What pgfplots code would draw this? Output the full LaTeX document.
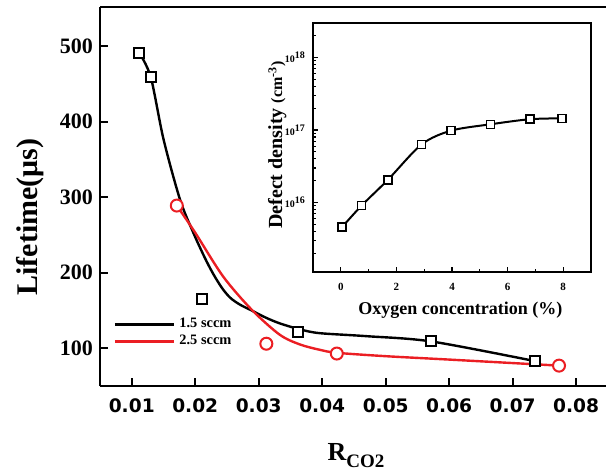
\documentclass[border=0pt]{standalone}
\usepackage{fontspec}
\setmainfont{Liberation Serif}
\newfontfamily\dejavu{DejaVu Sans}
\usepackage{pgfplots}
\pgfplotsset{compat=1.18}
\definecolor{fitred}{RGB}{235,30,35}

\begin{document}
\begin{tikzpicture}
\path[use as bounding box] (-50pt,-43.5pt) rectangle (254.5pt,193pt);
% main plot: lifetime vs R_CO2
\begin{axis}[
  at={(0,0)}, anchor=south west, scale only axis,
  width=253pt, height=189.5pt,
  xmin=0.005, xmax=0.0847, ymin=50, ymax=552,
  axis x line*=box, axis y line*=left,
  axis line style={line width=1.3pt,-},
  xtick pos=bottom, ytick pos=left,
  tick align=inside, major tick length=4pt,
  tick style={line width=1.1pt,black},
  scaled x ticks=false,
  xtick={0.01,0.02,0.03,0.04,0.05,0.06,0.07,0.08},
  xticklabels={0.01,0.02,0.03,0.04,0.05,0.06,0.07,0.08},
  xticklabel style={font=\dejavu\bfseries\fontsize{9.3}{9.3}\selectfont,yshift=-3pt},
  ytick={100,200,300,400,500},
  yticklabel style={font=\fontsize{11}{11}\selectfont\bfseries},
  /pgf/number format/assume math mode=true,
  xlabel={R\raisebox{-3.5pt}{\fontsize{9.5}{9.5}\selectfont CO2}},
  xlabel style={font=\fontsize{13}{13}\selectfont\bfseries,at={(axis description cs:0.506,0)},anchor=base,yshift=-37pt},
  ylabel={Lifetime(μs)},
  ylabel style={font=\fontsize{15}{15}\selectfont\bfseries,at={(axis description cs:-0.1245,0.446)},anchor=base},
  legend style={at={(axis cs:0.00705,120.4)}, anchor=west, draw=none, fill=none,
    font=\fontsize{7.2}{7.2}\selectfont\bfseries, row sep=-2pt, inner sep=0pt},
  legend image code/.code={\draw[#1,line width=1.5pt] (0pt,0pt) -- (29.5pt,0pt);},
  legend cell align=left,
]
\addplot[black, line width=1.2pt, smooth] coordinates {
  (0.0112,491) (0.0130,459) (0.0150,377) (0.0176,297) (0.0197,253)
  (0.0215,220) (0.0228,199) (0.0242,180) (0.0255,167) (0.0270,158)
  (0.0289,150) (0.0310,141) (0.0333,133) (0.0365,125) (0.0396,120)
  (0.0470,116) (0.0572,109) (0.0735,83)};
\addlegendentry{1.5 sccm}
\addplot[fitred, line width=1.2pt, smooth] coordinates {
  (0.0171,289) (0.0200,253) (0.0244,195) (0.0289,151) (0.0333,118)
  (0.0365,105) (0.0396,98) (0.0423,94) (0.0500,89.5) (0.0600,85) (0.0773,77)};
\addlegendentry{2.5 sccm}
\addplot[only marks, mark=square*, mark size=2.5pt, forget plot,
  mark options={draw=black, fill=white, line width=1pt}] coordinates {
  (0.0112,491) (0.0131,459) (0.0211,165) (0.0362,121) (0.0572,109) (0.0735,83)};
\addplot[only marks, mark=*, mark size=3pt, forget plot,
  mark options={draw=fitred, fill=white, line width=1pt}] coordinates {
  (0.0171,289) (0.0312,106) (0.0423,93) (0.0773,77)};
\end{axis}
% inset: defect density vs oxygen concentration
\begin{axis}[
  at={(106.5pt,57pt)}, anchor=south west, scale only axis,
  width=139pt, height=124.5pt,
  axis background/.style={fill=white},
  xmin=-1, xmax=9, ymode=log, ymin=1.1e15, ymax=3e18,
  axis line style={line width=0.7pt},
  xtick pos=bottom, ytick pos=left,
  tick align=inside, major tick length=2.5pt, minor tick length=1.5pt,
  tick style={line width=0.6pt,black},
  xtick={0,2,4,6,8}, minor xtick={1,3,5,7},
  ytick={1e16,1e17,1e18},
  minor ytick={2e15,3e15,4e15,5e15,6e15,7e15,8e15,9e15,
    2e16,3e16,4e16,5e16,6e16,7e16,8e16,9e16,
    2e17,3e17,4e17,5e17,6e17,7e17,8e17,9e17,2e18,3e18},
  yticklabels={10\textsuperscript{16},10\textsuperscript{17},10\textsuperscript{18}},
  xticklabels={0,2,4,6,8},
  xticklabel style={font=\fontsize{5.5}{5.5}\selectfont\bfseries,yshift=-2pt},
  yticklabel style={font=\fontsize{5}{5}\selectfont\bfseries},
  xlabel={Oxygen concentration (\%)},
  xlabel style={font=\fontsize{9}{9}\selectfont\bfseries,at={(axis description cs:0.53,0)},anchor=base,yshift=-21.5pt},
  ylabel={Defect density {\fontsize{8}{8}\selectfont(cm\textsuperscript{-3})}},
  ylabel style={font=\fontsize{10}{10}\selectfont\bfseries,at={(axis description cs:-0.1115,0.51)},anchor=base},
]
\addplot[black, line width=1pt, smooth, mark=square*, mark size=2pt,
  mark options={fill=white, line width=0.8pt}] coordinates {
  (0.05,4.6e15) (0.75,9.1e15) (1.69,2.05e16) (2.9,6.3e16) (3.96,9.8e16)
  (5.38,1.2e17) (6.8,1.41e17) (7.96,1.45e17)};
\end{axis}
\end{tikzpicture}
\end{document}
